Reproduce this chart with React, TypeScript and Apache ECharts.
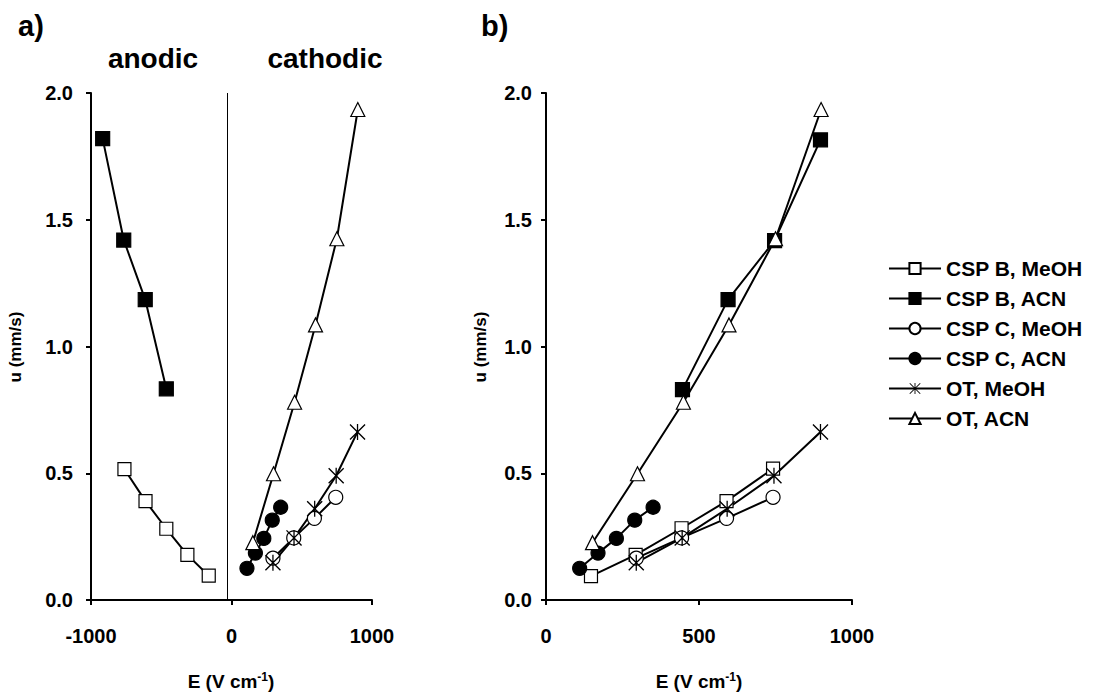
import React, { useEffect, useRef } from 'react';
import * as echarts from 'echarts';

// ---- data (E in V/cm, u in mm/s) ----
const seriesNames = ['CSP B, MeOH', 'CSP B, ACN', 'CSP C, MeOH', 'CSP C, ACN', 'OT, MeOH', 'OT, ACN'];

// panel b (and cathodic part of panel a)
const cspBMeOH_E = [147, 293, 443, 590, 742];
const cspBMeOH_u = [0.094, 0.178, 0.283, 0.39, 0.518];
const cspBAcn_E = [446, 595, 747, 897];
const cspBAcn_u = [0.83, 1.185, 1.418, 1.815];
const cspCMeOH_E = [295, 443, 590, 742];
const cspCMeOH_u = [0.165, 0.245, 0.322, 0.405];
const cspCAcn_E = [110, 170, 230, 290, 350];
const cspCAcn_u = [0.125, 0.185, 0.243, 0.315, 0.366];
const otMeOH_E = [295, 445, 592, 745, 897];
const otMeOH_u = [0.147, 0.245, 0.36, 0.49, 0.663];
const otAcn_E = [152, 299, 449, 598, 750, 899];
const otAcn_u = [0.226, 0.498, 0.78, 1.085, 1.425, 1.935];

// panel a, anodic (negative field)
const anodicCspBMeOH_E = [-162, -314, -464, -612, -762];
const anodicCspBMeOH_u = [0.096, 0.178, 0.281, 0.39, 0.516];
const anodicCspBAcn_E = [-464, -614, -767, -917];
const anodicCspBAcn_u = [0.833, 1.185, 1.42, 1.82];

const dividerE = -30;

const xTicksA = [-1000, 0, 1000];
const xTicksB = [0, 500, 1000];
const yTicks = [0, 0.5, 1.0, 1.5, 2.0];

const FONT = '"Liberation Sans", Arial, sans-serif';

const asteriskPath =
  'path://M46,0L54,0L54,100L46,100Z M0,6L6,0L100,94L94,100Z M94,0L100,6L6,100L0,94Z';

const styles: Record<string, any> = {
  'CSP B, MeOH': { symbol: 'rect', symbolSize: 13, fill: '#ffffff' },
  'CSP B, ACN': { symbol: 'rect', symbolSize: 14, fill: '#000000' },
  'CSP C, MeOH': { symbol: 'circle', symbolSize: 14, fill: '#ffffff' },
  'CSP C, ACN': { symbol: 'circle', symbolSize: 14, fill: '#000000' },
  'OT, MeOH': { symbol: asteriskPath, symbolSize: 16, fill: '#000000' },
  'OT, ACN': { symbol: 'triangle', symbolSize: 14, fill: '#ffffff' },
};

const zip = (xs: number[], ys: number[]) => xs.map((x, i) => [x, ys[i]]);

function makeSeries(name: string, data: number[][], idx: number, extra: any = {}) {
  const s = styles[name];
  return {
    name,
    type: 'line',
    xAxisIndex: idx,
    yAxisIndex: idx,
    data,
    symbol: s.symbol,
    symbolSize: s.symbolSize,
    showAllSymbol: true,
    lineStyle: { color: '#000', width: 2 },
    itemStyle: { color: s.fill, borderColor: '#000', borderWidth: s.symbol === asteriskPath ? 0 : 1.2 },
    emphasis: { disabled: true },
    z: 3,
    ...extra,
  };
}

function axisCommon() {
  return {
    axisLine: { show: true, onZero: false, lineStyle: { color: '#000', width: 2 } },
    axisTick: { show: true, length: 5, inside: false, lineStyle: { color: '#000', width: 2 } },
    splitLine: { show: false },
  };
}

export default function App() {
  const ref = useRef<HTMLDivElement>(null);
  useEffect(() => {
    document.body.style.margin = '0';
    if (!ref.current) return;
    const chart = echarts.init(ref.current, undefined, { renderer: 'svg' });
    const labelStyle = { color: '#000', fontFamily: FONT, fontWeight: 'bold', fontSize: 20 };
    const axisTitle = (x: number) => ({
      type: 'text', x, y: 681,
      style: {
        text: '{n|E (V cm}{s|-1}{n|)}', textAlign: 'center', textVerticalAlign: 'middle',
        rich: {
          n: { fill: '#000', fontSize: 19, fontWeight: 'bold', fontFamily: FONT },
          s: { fill: '#000', fontSize: 12, fontWeight: 'bold', fontFamily: FONT, verticalAlign: 'top', padding: [0, 0, 9, 0] },
        },
      },
    });
    const uTitle = (x: number) => ({
      type: 'text', x, y: 347, rotation: Math.PI / 2,
      style: { text: 'u (mm/s)', fill: '#000', font: `bold 17px ${FONT}`, textAlign: 'center', textVerticalAlign: 'middle' },
    });
    const option: any = {
      animation: false,
      backgroundColor: '#ffffff',
      grid: [
        { left: 91, top: 93, width: 281, height: 507 },
        { left: 546, top: 93, width: 306, height: 507 },
      ],
      xAxis: [
        {
          type: 'value', gridIndex: 0, min: xTicksA[0], max: xTicksA[xTicksA.length - 1], interval: 1000,
          ...axisCommon(),
          axisLabel: { ...labelStyle, margin: 26, formatter: (v: number) => String(v) },
        },
        {
          type: 'value', gridIndex: 1, min: xTicksB[0], max: xTicksB[xTicksB.length - 1], interval: 500,
          ...axisCommon(),
          axisLabel: { ...labelStyle, margin: 26, formatter: (v: number) => String(v) },
        },
      ],
      yAxis: [
        {
          type: 'value', gridIndex: 0, min: yTicks[0], max: yTicks[yTicks.length - 1], interval: 0.5,
          ...axisCommon(),
          axisLabel: { ...labelStyle, margin: 18, formatter: (v: number) => v.toFixed(1) },
        },
        {
          type: 'value', gridIndex: 1, min: yTicks[0], max: yTicks[yTicks.length - 1], interval: 0.5,
          ...axisCommon(),
          axisLabel: { ...labelStyle, margin: 14, formatter: (v: number) => v.toFixed(1) },
        },
      ],
      legend: {
        orient: 'vertical',
        left: 888,
        top: 258,
        padding: 0,
        itemWidth: 52,
        itemHeight: 14,
        itemGap: 9,
        data: seriesNames,
        lineStyle: { color: '#000', width: 2 },
        textStyle: { color: '#000', fontFamily: FONT, fontWeight: 'bold', fontSize: 21 },
        selectedMode: false,
      },
      series: [
        makeSeries('CSP B, MeOH', zip(anodicCspBMeOH_E, anodicCspBMeOH_u), 0, {
          markLine: {
            silent: true,
            symbol: 'none',
            label: { show: false },
            lineStyle: { color: '#000', width: 1, type: 'solid' },
            data: [{ xAxis: dividerE }],
          },
        }),
        makeSeries('CSP B, ACN', zip(anodicCspBAcn_E, anodicCspBAcn_u), 0),
        makeSeries('CSP C, MeOH', zip(cspCMeOH_E, cspCMeOH_u), 0),
        makeSeries('CSP C, ACN', zip(cspCAcn_E, cspCAcn_u), 0),
        makeSeries('OT, MeOH', zip(otMeOH_E, otMeOH_u), 0),
        makeSeries('OT, ACN', zip(otAcn_E, otAcn_u), 0),
        makeSeries('CSP B, MeOH', zip(cspBMeOH_E, cspBMeOH_u), 1),
        makeSeries('CSP B, ACN', zip(cspBAcn_E, cspBAcn_u), 1),
        makeSeries('CSP C, MeOH', zip(cspCMeOH_E, cspCMeOH_u), 1),
        makeSeries('CSP C, ACN', zip(cspCAcn_E, cspCAcn_u), 1),
        makeSeries('OT, MeOH', zip(otMeOH_E, otMeOH_u), 1),
        makeSeries('OT, ACN', zip(otAcn_E, otAcn_u), 1),
      ],
      graphic: [
        { type: 'text', x: 18, y: 26, style: { text: 'a)', fill: '#000', font: `bold 29px ${FONT}`, textVerticalAlign: 'middle' } },
        { type: 'text', x: 481, y: 26, style: { text: 'b)', fill: '#000', font: `bold 29px ${FONT}`, textVerticalAlign: 'middle' } },
        { type: 'text', x: 153, y: 58, style: { text: 'anodic', fill: '#000', font: `bold 28px ${FONT}`, textAlign: 'center', textVerticalAlign: 'middle' } },
        { type: 'text', x: 325, y: 58, style: { text: 'cathodic', fill: '#000', font: `bold 28px ${FONT}`, textAlign: 'center', textVerticalAlign: 'middle' } },
        uTitle(15),
        uTitle(480),
        axisTitle(231),
        axisTitle(699),
      ],
    };
    chart.setOption(option);
    return () => chart.dispose();
  }, []);
  return <div ref={ref} style={{ width: 1096, height: 693 }} />;
}
